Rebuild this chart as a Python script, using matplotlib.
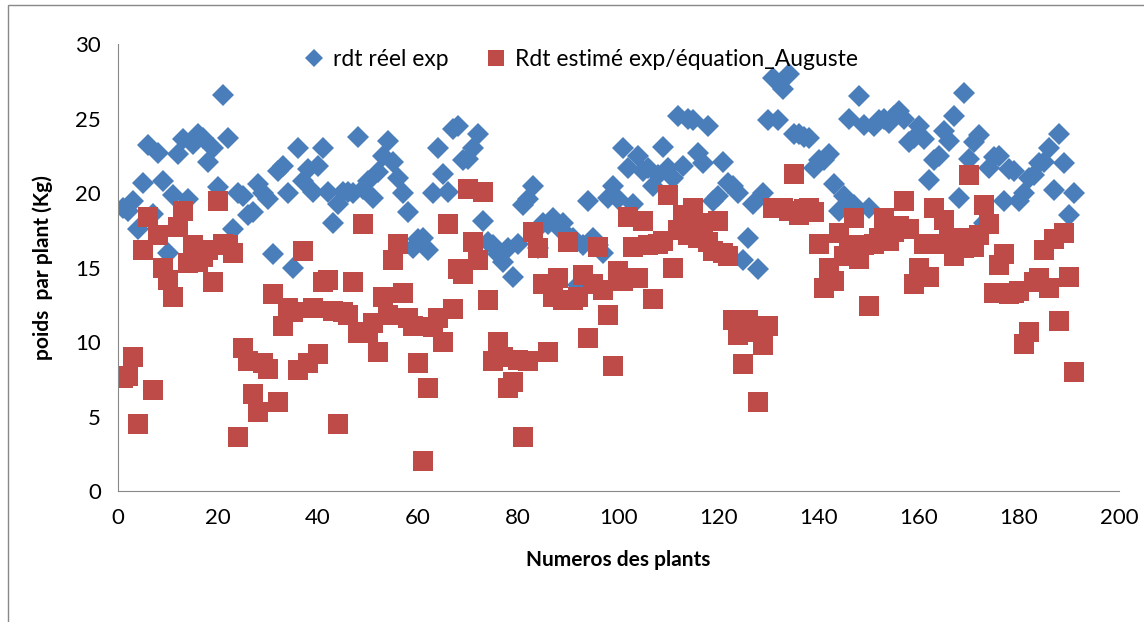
import matplotlib.pyplot as plt
from matplotlib.patches import Rectangle
import numpy as np

plt.rcParams.update({'font.family': ['Lato', 'DejaVu Sans']})

# rendement réel observé (Kg)
rdt_reel = [
    19.0, 18.8, 19.5, 17.6, 20.7, 23.2, 18.6, 22.7, 20.8, 16.0,
    19.9, 22.6, 23.6, 19.6, 23.3, 24.0, 23.7, 22.1, 23.0, 20.4,
    26.6, 23.7, 17.6, 20.0, 19.8, 18.5, 18.7, 20.6, 20.0, 19.6,
    15.9, 21.5, 21.8, 20.0, 15.0, 23.0, 20.8, 21.6, 20.1, 21.8,
    23.0, 20.1, 18.0, 19.3, 20.1, 20.1, 20.0, 23.8, 20.3, 20.8,
    19.7, 21.4, 22.5, 23.5, 22.1, 21.0, 20.0, 18.7, 16.3, 16.9,
    17.0, 16.2, 20.0, 23.0, 21.3, 20.1, 24.3, 24.5, 22.2, 22.3,
    23.0, 24.0, 18.1, 16.7, 16.5, 15.9, 15.4, 16.3, 14.4, 16.6,
    19.2, 19.6, 20.5, 16.3, 18.0, 17.9, 18.3, 17.7, 18.0, 17.1,
    17.0, 13.8, 16.5, 19.5, 17.0, 16.5, 16.0, 19.7, 20.5, 19.6,
    23.0, 21.7, 19.3, 22.5, 21.5, 21.7, 20.5, 21.2, 23.1, 21.7,
    21.0, 25.2, 21.8, 25.0, 24.9, 22.7, 22.0, 24.5, 19.5, 19.8,
    22.1, 20.7, 20.5, 20.0, 15.5, 17.0, 19.3, 14.9, 20.0, 24.9,
    27.7, 24.9, 27.0, 28.0, 24.0, 24.0, 23.8, 23.7, 21.7, 22.2,
    22.2, 22.6, 20.6, 18.8, 19.8, 25.0, 19.2, 26.5, 24.6, 19.0,
    24.5, 24.9, 25.0, 24.7, 25.2, 25.5, 25.0, 23.4, 23.7, 24.5,
    23.6, 20.9, 22.2, 22.5, 24.2, 23.5, 25.2, 19.7, 26.7, 22.3,
    23.4, 23.9, 18.0, 21.7, 22.4, 22.5, 19.5, 21.6, 21.5, 19.5,
    20.0, 21.0, 21.2, 22.0, 22.1, 23.0, 20.2, 24.0, 22.0, 18.5,
    20.0,
]

# rendement estimé par l'équation
rdt_estime = [
    7.6, 7.7, 9.0, 4.5, 16.2, 18.4, 6.8, 17.2, 15.0, 14.2,
    13.0, 17.7, 18.8, 15.3, 16.5, 15.4, 15.7, 16.2, 14.0, 19.5,
    16.6, 16.5, 16.0, 3.6, 9.6, 8.7, 6.5, 5.3, 8.6, 8.2,
    13.2, 6.0, 11.1, 12.3, 12.0, 8.1, 16.1, 8.6, 12.3, 9.2,
    14.0, 14.2, 12.1, 4.5, 12.0, 11.8, 14.0, 10.6, 17.9, 10.7,
    11.3, 9.3, 13.0, 11.8, 15.5, 16.6, 13.3, 11.6, 11.1, 8.6,
    2.0, 6.9, 11.0, 11.6, 10.0, 17.9, 12.2, 14.9, 14.6, 20.3,
    16.7, 15.5, 20.1, 12.8, 8.7, 10.0, 9.0, 6.9, 7.3, 8.8,
    3.6, 8.7, 17.4, 16.3, 13.9, 9.3, 13.0, 14.3, 12.8, 16.7,
    12.8, 13.0, 14.5, 10.3, 13.9, 16.4, 13.5, 11.8, 8.4, 14.8,
    14.1, 18.4, 16.4, 14.3, 18.1, 16.5, 12.9, 16.6, 16.8, 19.9,
    15.0, 17.5, 18.5, 17.2, 19.0, 17.0, 18.0, 16.7, 16.1, 18.1,
    16.0, 15.8, 11.5, 10.5, 8.5, 11.5, 10.7, 6.0, 9.8, 11.1,
    19.0, 19.0, 19.0, 18.8, 21.3, 18.5, 18.9, 19.0, 18.7, 16.6,
    13.6, 15.0, 14.1, 17.3, 15.8, 16.5, 18.3, 15.6, 16.5, 12.4,
    16.6, 17.0, 18.3, 16.8, 17.4, 17.8, 19.5, 17.6, 13.9, 15.0,
    16.6, 14.4, 19.0, 16.6, 18.2, 17.0, 15.8, 17.0, 16.3, 21.2,
    16.4, 17.2, 19.2, 17.9, 13.3, 15.2, 15.9, 13.2, 13.3, 13.4,
    9.9, 10.7, 14.0, 14.3, 16.2, 13.6, 16.9, 11.4, 17.3, 14.4,
    8.0,
]

plants = np.arange(1, len(rdt_reel) + 1)

fig = plt.figure(figsize=(11.44, 6.22), dpi=100)
ax = fig.add_axes([0.103, 0.2106, 0.875, 0.7184])

ax.plot(plants, rdt_reel, 'D', color='#4A7EBB', markersize=11,
        markeredgewidth=0, label='rdt réel exp')
ax.plot(plants, rdt_estime, 's', color='#BE4B48', markersize=14,
        markeredgewidth=0, label='Rdt estimé exp/équation_Auguste')

ax.set_xlim(0, 200)
ax.set_ylim(0, 30)
ax.set_xticks(range(0, 201, 20))
ax.set_yticks(range(0, 31, 5))
ax.tick_params(labelsize=16, length=0, pad=12)
for side in ['top', 'right']:
    ax.spines[side].set_visible(False)
for side in ['left', 'bottom']:
    ax.spines[side].set_color('#888888')

ax.set_xlabel('Numeros des plants', fontsize=15, fontweight='bold', labelpad=16)
ax.set_ylabel('poids  par plant (Kg)', fontsize=15, fontweight='bold', labelpad=16)

ax.legend(loc='upper center', bbox_to_anchor=(0.462, 1.035), ncol=2, frameon=False,
          fontsize=16.5, handlelength=1.0, handletextpad=0.3, columnspacing=1.6,
          markerscale=0.85)

# cadre gris autour du graphique
fig.patches.append(Rectangle((0.007, -0.01), 1.2, 1.002, transform=fig.transFigure,
                             fill=False, edgecolor='#888888', linewidth=1))

fig.savefig('out.png', dpi=100)
